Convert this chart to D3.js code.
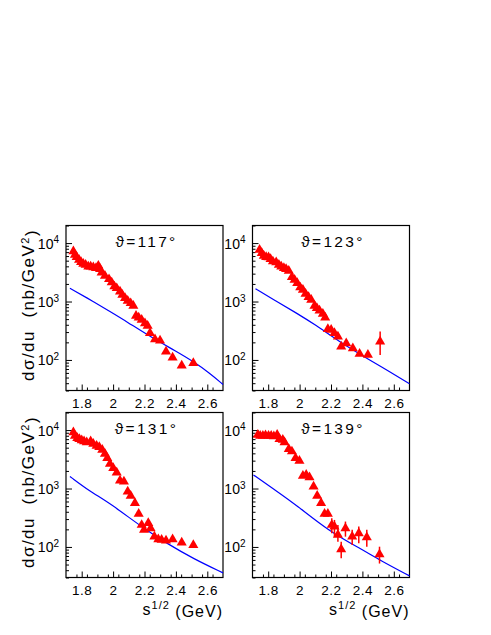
<!DOCTYPE html>
<html>
<head>
<meta charset="utf-8">
<script src="https://cdn.jsdelivr.net/npm/d3@7"></script>
<style>
  body { margin: 0; background: #fff; }
  svg { display: block; }
  text { font-family: "Liberation Sans", Arial, Helvetica, sans-serif; fill: #000; }
  .domain { display: none; }
</style>
</head>
<body>
<svg class="chart" width="491" height="635"></svg>
<script>
// scattering angles (one panel each)
const angles = [117, 123, 131, 139];

// data points: sqrt(s) in GeV, dsigma/du in nb/GeV^2
const w117 = [1.747, 1.757, 1.768, 1.783, 1.796, 1.810, 1.825, 1.842, 1.857, 1.874, 1.891, 1.906, 1.917, 1.927, 1.948, 1.974, 1.991, 2.008, 2.023, 2.044, 2.059, 2.076, 2.093, 2.112, 2.129, 2.146, 2.163, 2.182, 2.203, 2.220, 2.235, 2.267, 2.299, 2.337, 2.379, 2.437, 2.511];
const ds117 = [7200, 6300, 5750, 5180, 4720, 4430, 4250, 3980, 3980, 3830, 3730, 4100, 3600, 3140, 2750, 2410, 2120, 1810, 1690, 1480, 1300, 1140, 1030, 936, 843, 568, 532, 485, 425, 383, 287, 226, 214, 139, 110, 80, 88];

const w123 = [1.745, 1.759, 1.772, 1.787, 1.802, 1.815, 1.830, 1.851, 1.868, 1.883, 1.900, 1.914, 1.931, 1.951, 1.968, 1.985, 2.004, 2.021, 2.038, 2.057, 2.074, 2.095, 2.110, 2.127, 2.148, 2.163, 2.180, 2.201, 2.222, 2.244, 2.265, 2.297, 2.339, 2.382, 2.435, 2.513];
const ds123 = [7690, 6740, 6070, 5750, 5680, 5320, 4850, 4670, 4250, 3980, 3730, 3580, 3360, 2610, 2350, 2060, 1740, 1580, 1350, 1190, 1070, 843, 769, 701, 615, 532, 336, 327, 287, 251, 169, 193, 158, 127, 122, 206];
const errLo123 = [null, null, null, null, null, null, null, null, null, null, null, null, null, null, null, null, null, null, null, null, null, null, null, null, null, null, null, null, null, null, null, null, null, null, null, 122];
const errHi123 = [null, null, null, null, null, null, null, null, null, null, null, null, null, null, null, null, null, null, null, null, null, null, null, null, null, null, null, null, null, null, null, null, null, null, null, 306];

const w131 = [1.747, 1.757, 1.772, 1.785, 1.800, 1.815, 1.832, 1.857, 1.874, 1.895, 1.912, 1.931, 1.948, 1.963, 1.980, 2.001, 2.023, 2.044, 2.069, 2.093, 2.112, 2.139, 2.163, 2.182, 2.197, 2.224, 2.239, 2.263, 2.288, 2.309, 2.337, 2.379, 2.437, 2.511];
const ds131 = [9120, 8000, 7290, 7010, 6650, 6400, 6150, 6400, 5830, 5390, 5110, 4600, 3930, 3310, 2650, 2230, 1880, 1370, 1320, 889, 748, 561, 368, 238, 196, 255, 209, 150, 135, 132, 128, 135, 119, 108];

const w139 = [1.734, 1.749, 1.766, 1.783, 1.802, 1.819, 1.836, 1.857, 1.872, 1.893, 1.904, 1.931, 1.951, 1.974, 1.999, 2.021, 2.042, 2.063, 2.089, 2.112, 2.137, 2.159, 2.180, 2.205, 2.222, 2.244, 2.265, 2.292, 2.335, 2.377, 2.428, 2.509];
const ds139 = [8320, 8000, 8000, 8110, 8000, 8000, 7790, 8320, 7010, 6830, 6150, 4720, 4310, 3310, 2980, 1650, 1710, 1560, 1080, 748, 561, 368, 368, 238, 223, 161, 91, 209, 150, 171, 146, 75];
const errLo139 = [null, null, null, null, null, null, null, null, null, null, null, null, null, null, null, null, null, null, null, null, null, null, null, 171, 150, 123, 64, 150, 108, 116, 101, 52];
const errHi139 = [null, null, null, null, null, null, null, null, null, null, null, null, null, null, null, null, null, null, null, null, null, null, null, 310, 290, 238, 123, 272, 196, 223, 196, 101];

// model curves (blue)
const curveW117 = [1.725, 1.874, 1.980, 2.086, 2.235, 2.405, 2.511, 2.617, 2.700];
const curve117 = [1690, 1000, 674, 454, 251, 139, 94, 59, 38];
const curveW123 = [1.719, 1.850, 1.978, 2.100, 2.254, 2.400, 2.509, 2.700];
const curve123 = [1650, 1020, 640, 400, 205, 118, 80, 39];
const curveW131 = [1.725, 1.850, 1.980, 2.193, 2.350, 2.511, 2.700];
const curve131 = [1610, 900, 561, 209, 112, 63, 36];
const curveW139 = [1.706, 1.850, 1.978, 2.190, 2.403, 2.509, 2.700];
const curve139 = [1710, 920, 525, 183, 89, 60, 32];

const xTicks = [1.8, 2, 2.2, 2.4, 2.6];

// layout of the four frames
const panelW = 157, panelH = 165;
const panelX = [66, 252.5, 66, 252.5];
const panelY = [225.5, 225.5, 412.5, 412.5];

const svg = d3.select('.chart');

const xScale = d3.scaleLinear().domain([1.7, 2.7]).range([0, panelW]);
const yScale = d3.scaleLog().domain([30, 20000]).range([panelH, 0]);

const panels = [
  { w: w117, ds: ds117, lo: null, hi: null, cw: curveW117, c: curve117 },
  { w: w123, ds: ds123, lo: errLo123, hi: errHi123, cw: curveW123, c: curve123 },
  { w: w131, ds: ds131, lo: null, hi: null, cw: curveW131, c: curve131 },
  { w: w139, ds: ds139, lo: errLo139, hi: errHi139, cw: curveW139, c: curve139 }
];

const render = (p, i) => {
  const g = svg.append('g')
    .attr('transform', `translate(${panelX[i]},${panelY[i]})`);

  // x axis: major + minor ticks pointing inward
  const minorX = d3.range(1.7 + 0.2 / 3, 2.7, 0.2 / 3).filter(v => v < 2.7);
  g.append('g')
    .attr('transform', `translate(0,${panelH})`)
    .call(d3.axisBottom(xScale).tickValues(minorX).tickSize(-3).tickFormat(''));
  const xAxisG = g.append('g')
    .attr('transform', `translate(0,${panelH})`)
    .call(d3.axisBottom(xScale).tickValues(xTicks).tickSize(-6).tickPadding(8)
      .tickFormat(d => d === 2 ? '2' : d3.format('.1f')(d)));
  xAxisG.selectAll('text').attr('font-size', '13.5px').attr('font-family', null).style('letter-spacing', '0.5px');

  // y axis: log decades + minor ticks
  const minorY = [];
  [10, 100, 1000, 10000].forEach(dec => {
    for (let k = 2; k <= 9; k++) {
      const v = k * dec;
      if (v >= 30 && v <= 20000) minorY.push(v);
    }
  });
  g.append('g')
    .call(d3.axisLeft(yScale).tickValues(minorY).tickSize(-3).tickFormat(''));
  const yAxisG = g.append('g')
    .call(d3.axisLeft(yScale).tickValues([100, 1000, 10000]).tickSize(-6).tickPadding(7).tickFormat(''));
  yAxisG.selectAll('.tick text').each(function (d) {
    const t = d3.select(this);
    t.attr('font-size', '14px').attr('font-family', null).attr('dy', '0.36em');
    t.append('tspan').text('10');
    t.append('tspan').attr('dy', '-0.55em').attr('font-size', '10px').text(Math.round(Math.log10(d)));
  });
  g.selectAll('.tick line').attr('stroke', '#000').attr('stroke-width', 1);

  // frame
  g.append('rect')
    .attr('width', panelW).attr('height', panelH)
    .attr('fill', 'none').attr('stroke', '#000').attr('stroke-width', 1.2);

  // model curve
  const line = d3.line()
    .x(d => xScale(d[0]))
    .y(d => yScale(d[1]))
    .curve(d3.curveBasis);
  g.append('path')
    .datum(p.cw.map((w, k) => [w, p.c[k]]))
    .attr('d', line)
    .attr('fill', 'none')
    .attr('stroke', '#0000ff')
    .attr('stroke-width', 1.2);

  // error bars
  if (p.lo) {
    g.selectAll('line.err').data(p.w.map((w, k) => [w, p.lo[k], p.hi[k]]).filter(d => d[1] != null))
      .enter().append('line')
        .attr('class', 'err')
        .attr('x1', d => xScale(d[0])).attr('x2', d => xScale(d[0]))
        .attr('y1', d => yScale(d[1])).attr('y2', d => yScale(d[2]))
        .attr('stroke', '#ff0000').attr('stroke-width', 1.5);
  }

  // data points
  const tri = d3.symbol().type(d3.symbolTriangle).size(44);
  g.selectAll('path.pt').data(p.w.map((w, k) => [w, p.ds[k]]))
    .enter().append('path')
      .attr('class', 'pt')
      .attr('d', tri)
      .attr('transform', d => `translate(${xScale(d[0])},${yScale(d[1])})`)
      .attr('fill', '#ff0000');

  // angle title
  g.append('text')
    .attr('x', panelW / 2 + 2)
    .attr('y', 21)
    .attr('text-anchor', 'middle')
    .attr('font-size', '15.5px')
    .style('letter-spacing', '2.3px')
    .text(`\u03D1=${angles[i]}\u00B0`);

  // y title on the left panels
  if (i % 2 === 0) {
    const yt = svg.append('text')
      .attr('transform', `translate(34,${panelY[i] + panelH / 2 - 3}) rotate(-90)`)
      .attr('text-anchor', 'middle')
      .attr('font-size', '17px')
      .style('white-space', 'pre')
      .style('letter-spacing', '1.5px');
    yt.append('tspan').text('d\u03C3/du  (nb/GeV');
    yt.append('tspan').attr('dy', '-0.5em').attr('font-size', '11px').text('2');
    yt.append('tspan').attr('dy', '0.5em').text(')');
  }

  // x title on the bottom panels
  if (i >= 2) {
    const xt = svg.append('text')
      .attr('x', panelX[i] + panelW)
      .attr('y', panelY[i] + panelH + 37)
      .attr('text-anchor', 'end')
      .attr('font-size', '16px')
      .style('white-space', 'pre')
      .style('letter-spacing', '1px');
    xt.append('tspan').text('s');
    xt.append('tspan').attr('dy', '-0.5em').attr('font-size', '11px').text('1/2');
    xt.append('tspan').attr('dy', '0.5em').text(' (GeV)');
  }
};

panels.forEach(render);
</script>
</body>
</html>
